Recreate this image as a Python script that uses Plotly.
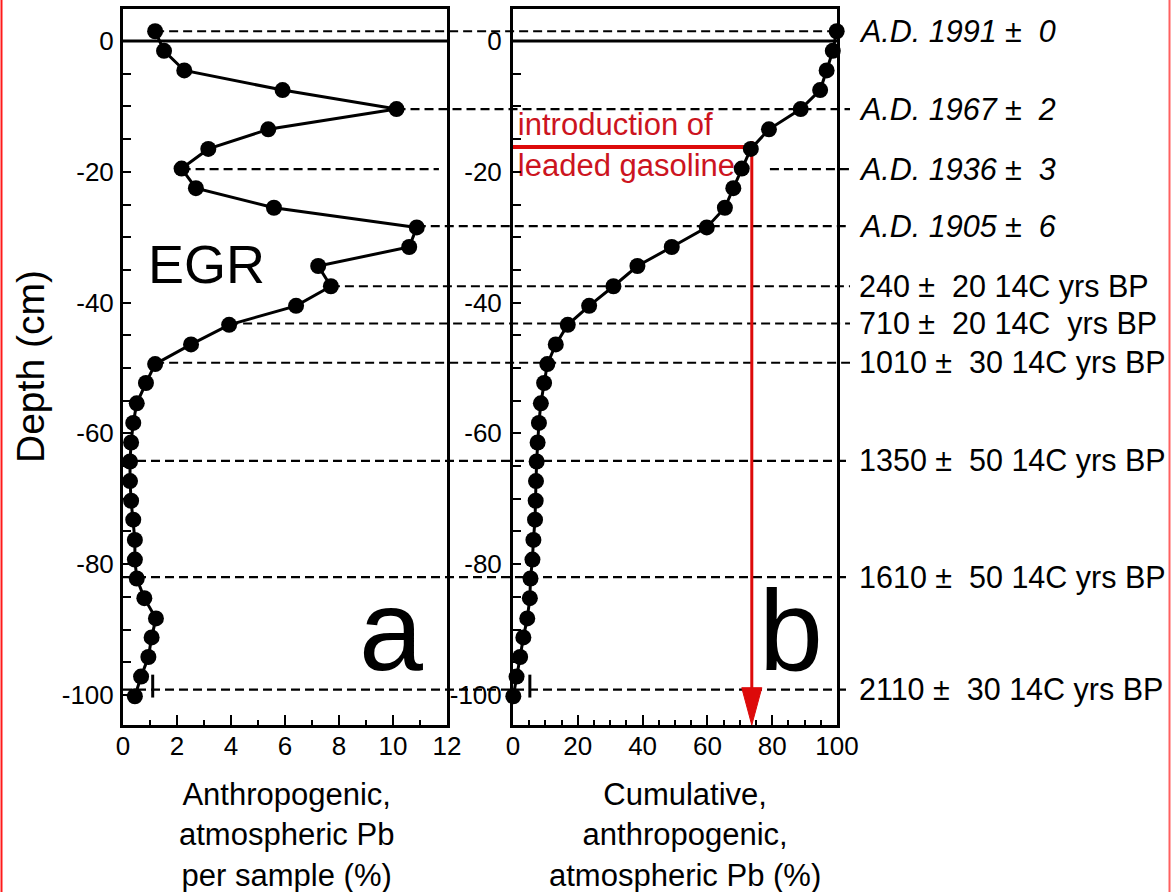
import plotly.graph_objects as go

# Profundidad de cada muestra (cm) y Pb antropogenico
depth = [1.5, -1.5, -4.5, -7.5, -10.4, -13.5, -16.5, -19.5, -22.5, -25.5,
         -28.5, -31.5, -34.4, -37.5, -40.5, -43.4, -46.4, -49.4, -52.3, -55.4,
         -58.4, -61.4, -64.3, -67.3, -70.3, -73.2, -76.3, -79.3, -82.2, -85.2,
         -88.3, -91.2, -94.2, -97.2, -100.2]
pb_sample = [1.19, 1.52, 2.27, 5.91, 10.13, 5.38, 3.16, 2.17, 2.70, 5.59,
             10.88, 10.60, 7.23, 7.70, 6.41, 3.93, 2.52, 1.19, 0.85, 0.51,
             0.38, 0.30, 0.26, 0.26, 0.30, 0.38, 0.44, 0.44, 0.51, 0.79,
             1.22, 1.06, 0.94, 0.67, 0.44]
pb_cumulative = [99.9, 98.7, 96.8, 94.8, 88.8, 79.0, 73.4, 70.6, 68.0, 65.4,
                 59.8, 49.0, 38.4, 31.0, 23.5, 16.9, 13.2, 10.6, 9.6, 8.6,
                 8.0, 7.6, 7.3, 7.1, 7.0, 6.8, 6.3, 6.0, 5.4, 5.2,
                 4.4, 3.2, 2.2, 1.1, 0.1]

# Horizontes datados
date_depths = [1.5, -10.4, -19.6, -28.3, -37.5, -43.2, -49.2, -64.2, -82.0, -99.2]
date_labels = ["A.D. 1991 ±  0", "A.D. 1967 ±  2", "A.D. 1936 ±  3",
               "A.D. 1905 ±  6", "240 ±  20 14C yrs BP", "710 ±  20 14C  yrs BP",
               "1010 ±  30 14C yrs BP", "1350 ±  50 14C yrs BP",
               "1610 ±  50 14C yrs BP", "2110 ±  30 14C yrs BP"]
date_line_start = [1.19, 10.13, 2.17, 10.88, 7.70, 3.93, 1.19, 0, 0, 0]

gasoline_depth = -16.2
gasoline_cum = 73.7
x_ticks_a = [0, 2, 4, 6, 8, 10, 12]
x_ticks_b = [0, 20, 40, 60, 80, 100]
y_ticks = [0, -20, -40, -60, -80, -100]
y_ticktext = ["0", "-20", "-40", "-60", "-80", "-100"]

FONT = "Liberation Sans, Arial, sans-serif"
W, H = 1171, 892
RED_TXT = "#cc1420"
RED_LN = "#dd0a0a"

dom_a = [123 / W, 447 / W]
dom_b = [513 / W, 837 / W]
dom_y = [1 - 725 / H, 1 - 9 / H]
y_range = [-104.6, 4.9]
line_end = 850 / W


def paper_a(v):
    return dom_a[0] + v / 12 * (dom_a[1] - dom_a[0])


def paper_b(v):
    return dom_b[0] + v / 100 * (dom_b[1] - dom_b[0])


fig = go.Figure()

fig.add_trace(go.Scatter(
    x=[1.5, 1.5], y=[-13.2, -19.4], mode="text",
    text=["introduction of", "leaded gasoline"],
    textposition="middle right",
    textfont=dict(family=FONT, size=31, color=RED_TXT),
    xaxis="x2", yaxis="y2", hoverinfo="skip",
))
fig.add_trace(go.Scatter(
    x=pb_sample, y=depth, mode="lines+markers",
    line=dict(color="black", width=3),
    marker=dict(color="black", size=16),
    xaxis="x", yaxis="y", cliponaxis=False,
))
fig.add_trace(go.Scatter(
    x=pb_cumulative, y=depth, mode="lines+markers",
    line=dict(color="black", width=3),
    marker=dict(color="black", size=16),
    xaxis="x2", yaxis="y2", cliponaxis=False,
))

shapes = []
# lineas discontinuas de los horizontes datados
for i, (d, v) in enumerate(zip(date_depths, date_line_start)):
    dash = dict(color="black", width=2.2, dash="9px,5px")
    if i == 2:
        shapes.append(dict(type="line", xref="paper", yref="y",
                           x0=paper_a(v), x1=paper_a(11.7), y0=d, y1=d,
                           line=dash, layer="below"))
        shapes.append(dict(type="line", xref="paper", yref="y",
                           x0=paper_b(79.3), x1=line_end, y0=d, y1=d,
                           line=dash, layer="below"))
    else:
        x1 = 838 / W if i == 0 else line_end
        shapes.append(dict(type="line", xref="paper", yref="y",
                           x0=paper_a(v), x1=x1, y0=d, y1=d,
                           line=dash, layer="below"))

# linea de profundidad cero
shapes.append(dict(type="line", xref="x", yref="y", x0=0, x1=12, y0=0, y1=0,
                   line=dict(color="black", width=3), layer="below"))
shapes.append(dict(type="line", xref="x2", yref="y2", x0=0, x1=100, y0=0, y1=0,
                   line=dict(color="black", width=3), layer="below"))

# pequenas barras cerca de -100
shapes.append(dict(type="line", xref="x", yref="y", x0=1.1, x1=1.1, y0=-96.9, y1=-100.4,
                   line=dict(color="black", width=3)))
shapes.append(dict(type="line", xref="x2", yref="y2", x0=5.2, x1=5.2, y0=-96.9, y1=-100.4,
                   line=dict(color="black", width=3)))

# flecha roja de la gasolina con plomo
shapes.append(dict(type="line", xref="x2", yref="y2", x0=0, x1=gasoline_cum,
                   y0=gasoline_depth, y1=gasoline_depth,
                   line=dict(color=RED_LN, width=4), layer="below"))
shapes.append(dict(type="line", xref="x2", yref="y2", x0=gasoline_cum, x1=gasoline_cum,
                   y0=gasoline_depth + 0.9, y1=-99.5,
                   line=dict(color=RED_LN, width=3), layer="below"))
hw = 3.1
shapes.append(dict(type="path", xref="x2", yref="y2",
                   path=f"M {gasoline_cum - hw},-98.9 L {gasoline_cum + hw},-98.9 "
                        f"L {gasoline_cum},{y_range[0]} Z",
                   fillcolor=RED_LN, line=dict(color=RED_LN, width=1)))

# marco rojo
shapes.append(dict(type="line", xref="paper", yref="paper", x0=1.5 / W, x1=1.5 / W,
                   y0=0, y1=1, line=dict(color="#ff1a1a", width=2)))
shapes.append(dict(type="line", xref="paper", yref="paper", x0=1169.5 / W, x1=1169.5 / W,
                   y0=0, y1=1, line=dict(color="#ff6060", width=2)))

annotations = []
for i, (d, lab) in enumerate(zip(date_depths, date_labels)):
    txt = lab.replace("  ", " \u00a0")
    if i < 4:
        txt = f"<i>{txt}</i>"
    annotations.append(dict(
        x=857 / W, y=d, xref="paper", yref="y", text=txt, showarrow=False,
        xanchor="left", yanchor="middle",
        font=dict(family=FONT, size=30.5, color="black"),
    ))

annotations += [
    dict(x=146 / W, y=1 - 264 / H, xref="paper", yref="paper", text="EGR",
         showarrow=False, xanchor="left", yanchor="middle",
         font=dict(family=FONT, size=54, color="black")),
    dict(x=391 / W, y=1 - 630 / H, xref="paper", yref="paper", text="a",
         showarrow=False, xanchor="center", yanchor="middle",
         font=dict(family=FONT, size=115, color="black")),
    dict(x=791 / W, y=1 - 630 / H, xref="paper", yref="paper", text="b",
         showarrow=False, xanchor="center", yanchor="middle",
         font=dict(family=FONT, size=115, color="black")),
    dict(x=30 / W, y=1 - 367 / H, xref="paper", yref="paper", text="Depth (cm)",
         showarrow=False, textangle=-90, xanchor="center", yanchor="middle",
         font=dict(family=FONT, size=39, color="black")),
    dict(x=286 / W, y=1 - 775 / H, xref="paper", yref="paper",
         text="Anthropogenic,<br>atmospheric Pb<br>per sample (%)",
         showarrow=False, xanchor="center", yanchor="top", align="center",
         font=dict(family=FONT, size=31, color="black")),
    dict(x=685 / W, y=1 - 775 / H, xref="paper", yref="paper",
         text="Cumulative,<br>anthropogenic,<br>atmospheric Pb (%)",
         showarrow=False, xanchor="center", yanchor="top", align="center",
         font=dict(family=FONT, size=31, color="black")),
]

eje = dict(showline=True, linecolor="black", linewidth=3, mirror=True,
           ticks="inside", tickcolor="black", tickwidth=2, showgrid=False,
           zeroline=False, automargin=False,
           tickfont=dict(family=FONT, size=26, color="black"))

fig.update_layout(
    width=W, height=H, autosize=False,
    margin=dict(l=0, r=0, t=0, b=0, pad=0),
    paper_bgcolor="white", plot_bgcolor="white",
    showlegend=False,
    xaxis=dict(eje, domain=dom_a, range=[0, 12], anchor="y",
               tickvals=x_ticks_a, ticklen=10, ticklabelstandoff=-4,
               minor=dict(dtick=1, ticks="inside", ticklen=5, tickcolor="black", tickwidth=2)),
    yaxis=dict(eje, domain=dom_y, range=y_range, anchor="x",
               tickvals=y_ticks, ticktext=y_ticktext, ticklen=8, ticklabelstandoff=1,
               minor=dict(dtick=5, ticks="inside", ticklen=8, tickcolor="black", tickwidth=2)),
    xaxis2=dict(eje, domain=dom_b, range=[0, 100], anchor="y2",
                tickvals=x_ticks_b, ticklen=10, ticklabelstandoff=-4,
                minor=dict(dtick=5, ticks="inside", ticklen=5, tickcolor="black", tickwidth=2)),
    yaxis2=dict(eje, domain=dom_y, range=y_range, anchor="x2",
                tickvals=y_ticks, ticktext=y_ticktext, ticklen=8, ticklabelstandoff=3,
                minor=dict(dtick=5, ticks="inside", ticklen=8, tickcolor="black", tickwidth=2)),
    shapes=shapes,
    annotations=annotations,
)

fig.write_html("out.html",
               config={"displayModeBar": False, "responsive": False},
               post_script="document.body.style.margin='0';"
                           "document.body.style.overflow='hidden';")
